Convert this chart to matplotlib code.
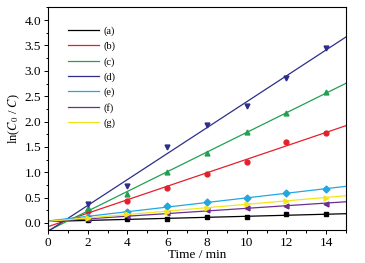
import matplotlib
matplotlib.use('Agg')
import matplotlib.pyplot as plt
import numpy as np
from matplotlib.ticker import MultipleLocator

plt.rcParams['font.family'] = ['Liberation Serif', 'DejaVu Serif']
plt.rcParams['mathtext.fontset'] = 'stix'

t = np.array([2, 4, 6, 8, 10, 12, 14])
labels = ['(a)', '(b)', '(c)', '(d)', '(e)', '(f)', '(g)']
a = [0.05, 0.08, 0.08, 0.11, 0.11, 0.17, 0.17]
b = [0.24, 0.44, 0.69, 0.97, 1.21, 1.59, 1.78]
c = [0.29, 0.57, 1.00, 1.38, 1.79, 2.17, 2.58]
d = [0.38, 0.72, 1.50, 1.93, 2.30, 2.86, 3.46]
e = [0.12, 0.21, 0.33, 0.41, 0.50, 0.59, 0.66]
f = [0.07, 0.13, 0.19, 0.25, 0.29, 0.34, 0.38]
g = [0.10, 0.17, 0.22, 0.30, 0.37, 0.44, 0.50]
series = [a, b, c, d, e, f, g]
colors = ['black', '#e3212b', '#22a052', '#2e2e8a', '#22a8e0', '#6b2e92', '#f2e51c']
markers = ['s', 'o', '^', 'v', 'D', '<', '>']

fig = plt.figure(figsize=(3.65, 2.63), dpi=100)
ax = fig.add_axes([0.1315, 0.1255, 0.8165, 0.848])

xx = np.array([0, 15])
for y, col, m, lab in zip(series, colors, markers, labels):
    k, b0 = np.polyfit(t, y, 1)
    ax.plot(xx, k * xx + b0, color=col, lw=0.9, label=lab)
    ax.plot(t, y, ls='none', marker=m, color=col, ms=3.5)

ax.set_xlim(0, 15)
ax.set_ylim(-0.14, 4.26)
ax.xaxis.set_major_locator(MultipleLocator(2))
ax.xaxis.set_minor_locator(MultipleLocator(1))
ax.yaxis.set_major_locator(MultipleLocator(0.5))
ax.yaxis.set_minor_locator(MultipleLocator(0.25))
ax.tick_params(which='both', direction='out', labelsize=9.5, width=0.7, pad=2)
ax.tick_params(which='major', length=3)
ax.tick_params(which='minor', length=1.8)
for s in ax.spines.values():
    s.set_linewidth(0.8)

ax.set_xlabel('Time / min', fontsize=9.5, labelpad=0)
ax.set_ylabel(r'ln($C_0$ / $C$)', fontsize=9, labelpad=2)

ax.legend(loc='upper left', frameon=False, fontsize=7.5, handlelength=3.0,
          labelspacing=0.55, handletextpad=0.4, bbox_to_anchor=(0.035, 0.955))

fig.savefig('out.png', dpi=100)
